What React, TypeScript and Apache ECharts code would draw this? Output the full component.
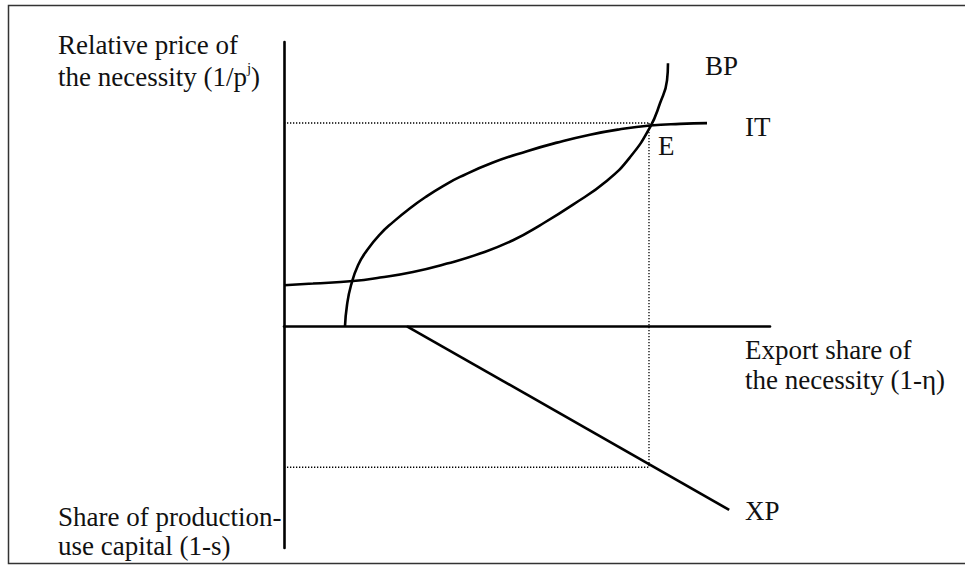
import React, { useEffect, useRef } from "react";
import * as echarts from "echarts";

// Curve data (x: export share 0-100, y: price above axis / capital share below axis)
const IT_X = [12.55, 12.96, 13.79, 15.23, 17.08, 19.75, 22.43, 25.93, 29.42, 32.72, 36.21, 43.0, 50.0, 56.17, 62.96, 69.14, 75.31, 81.48, 87.04];
const IT_Y = [0, 7.39, 14.42, 21.46, 26.73, 32.34, 36.63, 41.53, 45.79, 49.32, 52.53, 57.6, 61.6, 64.6, 67.4, 69.3, 70.6, 71.2, 71.45];

const BP_X = [0, 5.97, 14.2, 19.75, 26.54, 33.54, 40.33, 47.12, 52.67, 59.47, 66.46, 71.19, 75.31, 77.37, 78.81, 79.01];
const BP_Y = [14.42, 15.02, 15.93, 17.13, 19.1, 22.05, 25.57, 30.25, 35.53, 42.8, 51.2, 59.44, 70.0, 78.44, 86.53, 92.51];

const XP_X = [25.3, 91.6];
const XP_Y = [0, -64.6];

// Equilibrium E
const E_X = 75.1;
const E_Y = 71.5;
const E_SHARE = -49.6;

const X_MIN = 0;
const X_MAX = 100;
const Y_MIN = -78;
const Y_MAX = 100;

const SERIF = '"Liberation Serif", "Times New Roman", serif';

const zip = (xs: number[], ys: number[]) => xs.map((x, i) => [x, ys[i]]);

export default function App() {
  const ref = useRef<HTMLDivElement>(null);
  useEffect(() => {
    if (!ref.current) return;
    const chart = echarts.init(ref.current, null, { renderer: "svg" });
    const solid = { color: "#000", width: 2.6 };
    const dotted = { color: "#000", width: 1.3, type: [1.3, 1.7] as any };
    const txt = (text: string, x: number, y: number, extra: any = {}) => ({
      type: "text",
      x,
      y,
      style: { text, font: `27px ${SERIF}`, fill: "#111", verticalAlign: "middle", align: "left", ...extra },
      silent: true,
    });
    chart.setOption({
      animation: false,
      backgroundColor: "#fff",
      grid: { left: 284, top: 42, right: 195, bottom: 18, containLabel: false },
      xAxis: {
        type: "value",
        min: X_MIN,
        max: X_MAX,
        axisLine: { show: true, onZero: true, lineStyle: { color: "#000", width: 2.6 } },
        axisTick: { show: false },
        axisLabel: { show: false },
        splitLine: { show: false },
      },
      yAxis: {
        type: "value",
        min: Y_MIN,
        max: Y_MAX,
        axisLine: { show: true, onZero: false, lineStyle: { color: "#000", width: 2.6 } },
        axisTick: { show: false },
        axisLabel: { show: false },
        splitLine: { show: false },
      },
      series: [
        { name: "IT", type: "line", data: zip(IT_X, IT_Y), smooth: 0.5, showSymbol: false, lineStyle: solid, z: 5 },
        { name: "BP", type: "line", data: zip(BP_X, BP_Y), smooth: 0.5, showSymbol: false, lineStyle: solid, z: 5 },
        { name: "XP", type: "line", data: zip(XP_X, XP_Y), showSymbol: false, lineStyle: solid, z: 5 },
        { name: "d1", type: "line", data: [[X_MIN, E_Y], [E_X, E_Y]], showSymbol: false, lineStyle: dotted, z: 3 },
        { name: "d2", type: "line", data: [[E_X, E_Y], [E_X, E_SHARE]], showSymbol: false, lineStyle: dotted, z: 3 },
        { name: "d3", type: "line", data: [[X_MIN, E_SHARE], [E_X, E_SHARE]], showSymbol: false, lineStyle: dotted, z: 3 },
      ],
      graphic: [
        {
          type: "rect",
          shape: { x: 8.5, y: 5.5, width: 975, height: 558 },
          style: { fill: "none", stroke: "#333", lineWidth: 1.5 },
          silent: true,
          z: 0,
        },
        txt("Relative price of", 58, 45),
        {
          type: "text",
          x: 58,
          y: 75,
          style: {
            text: "{a|the necessity (1/p}{s|j}{a|)}",
            verticalAlign: "middle",
            rich: {
              a: { font: `27px ${SERIF}`, fill: "#111", lineHeight: 30, verticalAlign: "bottom" },
              s: { font: `15px ${SERIF}`, fill: "#111", lineHeight: 30, verticalAlign: "top" },
            },
          },
          silent: true,
        },
        txt("Share of production-", 58, 517),
        txt("use capital (1-s)", 58, 546),
        txt("Export share of", 745, 350),
        txt("the necessity (1-η)", 745, 380),
        txt("BP", 705, 66),
        txt("IT", 745, 127),
        txt("E", 658, 146),
        txt("XP", 745, 511),
      ],
    });
    return () => chart.dispose();
  }, []);
  return <div ref={ref} style={{ position: "fixed", left: 0, top: 0, width: 965, height: 566 }} />;
}
